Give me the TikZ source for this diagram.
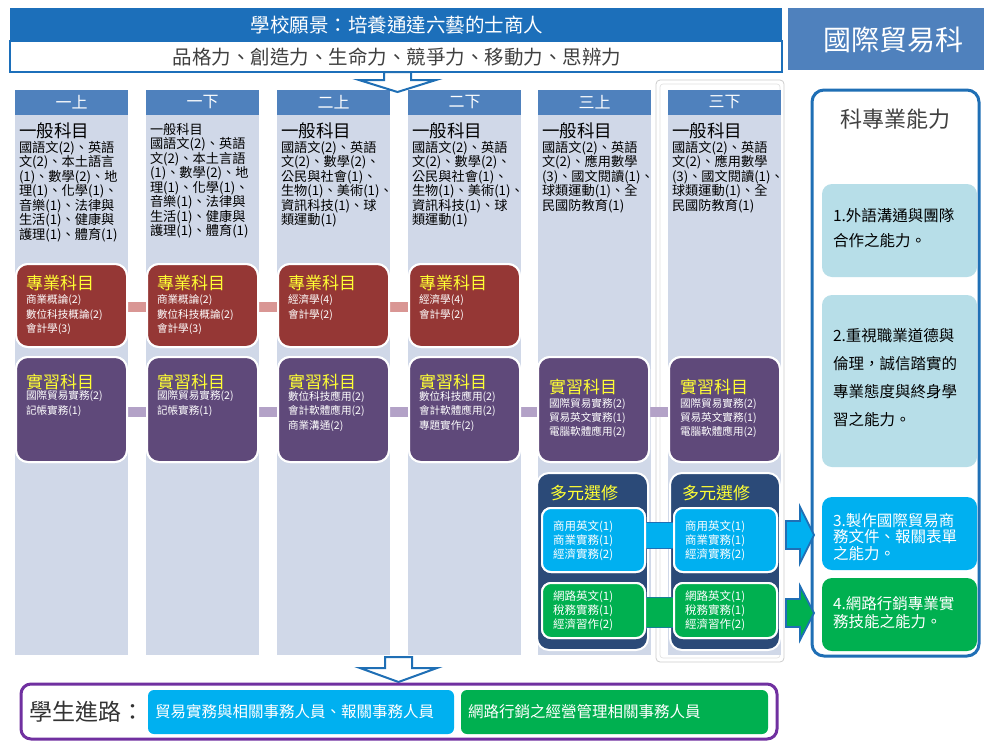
\documentclass[tikz,border=0pt]{standalone}
\usepackage{fontspec}
\setmainfont{Noto Sans CJK TC}
\usetikzlibrary{calc}
\definecolor{hdrblue}{HTML}{4F81BD}
\definecolor{bodybg}{HTML}{D0D8E8}
\definecolor{redc}{HTML}{953735}
\definecolor{purc}{HTML}{5F497A}
\definecolor{navyc}{HTML}{2B4A78}
\definecolor{cyanc}{HTML}{00B0F0}
\definecolor{greenc}{HTML}{00B050}
\definecolor{ltblue}{HTML}{B7DEE8}
\definecolor{frameblue}{HTML}{1F6FB5}
\definecolor{titleblue}{HTML}{1C6FBA}
\definecolor{purplebrd}{HTML}{7030A0}
\definecolor{pinkc}{HTML}{D99694}
\definecolor{lilacc}{HTML}{B3A2C7}
\definecolor{ttlyellow}{HTML}{FFFF33}
\newcommand{\fsz}[2]{\fontsize{#1}{#2}\selectfont}
\begin{document}
\begin{tikzpicture}[x=1pt,y=-1pt,
  every node/.style={inner sep=0pt,outer sep=0pt},
  colhead/.style={fill=hdrblue,text=white,minimum width=113,minimum height=25,anchor=north west,font=\fsz{16}{18}},
  colbody/.style={fill=bodybg,minimum width=113,minimum height=540,anchor=north west},
  redbox/.style={fill=redc,draw=white,line width=2pt,rounded corners=12,minimum width=111,minimum height=83,anchor=north west},
  purbox/.style={fill=purc,draw=white,line width=2pt,rounded corners=12,minimum width=111,minimum height=105,anchor=north west},
  navybox/.style={fill=navyc,draw=white,line width=2pt,rounded corners=12,minimum width=111,minimum height=177,anchor=north west},
  cybox/.style={fill=cyanc,draw=white,line width=2pt,rounded corners=9,minimum width=103,minimum height=64,anchor=north west},
  grbox/.style={fill=greenc,draw=white,line width=2pt,rounded corners=9,minimum width=103,minimum height=55,anchor=north west},
  bigttl/.style={anchor=west,font=\fsz{17.5}{20}},
  gentxt/.style={anchor=north west,align=left,font=\fsz{13.2}{14.5}},
  boxttl/.style={anchor=west,text=ttlyellow,font=\fsz{17}{20}},
  boxtxt/.style={anchor=north west,align=left,text=white,font=\fsz{10.6}{14.5}},
  abil/.style={rounded corners=10,minimum width=155,anchor=north west},
  abiltxt/.style={anchor=north west,align=left,font=\fsz{15.5}{25}},
  outarrow/.style={draw=frameblue,line width=2pt,fill=white,line join=miter}
]
\useasboundingbox (0,0) rectangle (984,742);

% ---------- header ----------
\node[fill=titleblue,minimum width=772,minimum height=33,anchor=north west] (vis) at (10,8) {};
\node[text=white,font=\fsz{19.5}{22}] (vistxt) at (397,25) {學校願景：培養通達六藝的士商人};
\node[fill=white,draw=titleblue,line width=2pt,minimum width=772,minimum height=31,anchor=north west] (pow) at (10,41) {};
\node[text=black!75,font=\fsz{19.5}{22}] (powtxt) at (397,57) {品格力、創造力、生命力、競爭力、移動力、思辨力};
\node[fill=hdrblue,minimum width=200,minimum height=62,anchor=north west] (dept) at (788,8) {};
\node[text=white,font=\fsz{28}{30}] (depttxt) at (893,40) {國際貿易科};

% ---------- columns ----------
\draw[gray!40,line width=0.8pt,rounded corners=4] (656,80) rectangle (784,662);
\draw[gray!25,line width=0.6pt,rounded corners=3] (660,84) rectangle (780,658);
\foreach \i/\x/\lab in {1/15/一上,2/146/一下,3/277/二上,4/408/二下,5/538/三上,6/668/三下}{
  \node[colbody] (b\i) at (\x,115) {};
  \node[colhead] (h\i) at (\x,90) {\lab};
}

% top arrow
\draw[outarrow] (384,72) -- (411,72) -- (411,80) -- (436,80) -- (397.5,92) -- (359,80) -- (384,80) -- cycle;

% general subjects
\node[bigttl] (g1t) at (19,131) {一般科目};
\node[gentxt] (g1) at (19,141) {國語文(2)、英語\\文(2)、本土語言\\(1)、數學(2)、地\\理(1)、化學(1)、\\音樂(1)、法律與\\生活(1)、健康與\\護理(1)、體育(1)};
\node[gentxt] (g2) at (150,123) {一般科目\\國語文(2)、英語\\文(2)、本土言語\\(1)、數學(2)、地\\理(1)、化學(1)、\\音樂(1)、法律與\\生活(1)、健康與\\護理(1)、體育(1)};
\node[bigttl] (g3t) at (281,131) {一般科目};
\node[gentxt] (g3) at (281,141) {國語文(2)、英語\\文(2)、數學(2)、\\公民與社會(1)、\\生物(1)、美術(1)、\\資訊科技(1)、球\\類運動(1)};
\node[bigttl] (g4t) at (412,131) {一般科目};
\node[gentxt] (g4) at (412,141) {國語文(2)、英語\\文(2)、數學(2)、\\公民與社會(1)、\\生物(1)、美術(1)、\\資訊科技(1)、球\\類運動(1)};
\node[bigttl] (g5t) at (542,131) {一般科目};
\node[gentxt] (g5) at (542,141) {國語文(2)、英語\\文(2)、應用數學\\(3)、國文閱讀(1)、\\球類運動(1)、全\\民國防教育(1)};
\node[bigttl] (g6t) at (672,131) {一般科目};
\node[gentxt] (g6) at (672,141) {國語文(2)、英語\\文(2)、應用數學\\(3)、國文閱讀(1)、\\球類運動(1)、全\\民國防教育(1)};

% ---------- professional subjects (red) ----------
\foreach \i/\x in {1/16,2/147,3/278,4/409}{
  \node[redbox] (r\i) at (\x,264) {};
}
\foreach \a/\b in {r1/r2,r2/r3,r3/r4}{
  \fill[pinkc] ([yshift=3.5]\a.east) rectangle ([yshift=-6.5]\b.west);
}
\foreach \i/\x in {1/16,2/147,3/278,4/409}{
  \node[redbox] at (\x,264) {};
  \node[boxttl] (rt\i) at (\x+10,283) {專業科目};
}
\node[boxtxt] (rx1) at (26,295) {商業概論(2)\\數位科技概論(2)\\會計學(3)};
\node[boxtxt] (rx2) at (157,295) {商業概論(2)\\數位科技概論(2)\\會計學(3)};
\node[boxtxt] (rx3) at (288,295) {經濟學(4)\\會計學(2)};
\node[boxtxt] (rx4) at (419,295) {經濟學(4)\\會計學(2)};

% ---------- practice subjects (purple) ----------
\foreach \i/\x in {1/16,2/147,3/278,4/409,5/538,6/669}{
  \node[purbox] (p\i) at (\x,357) {};
}
\foreach \a/\b in {p1/p2,p2/p3,p3/p4,p4/p5,p5/p6}{
  \fill[lilacc] ([yshift=2.5]\a.east) rectangle ([yshift=-7.5]\b.west);
}
\foreach \i/\x in {1/16,2/147,3/278,4/409,5/538,6/669}{
  \node[purbox] at (\x,357) {};
}
\node[boxttl] (pt1) at (26,382) {實習科目};
\node[boxttl] (pt2) at (157,382) {實習科目};
\node[boxttl] (pt3) at (288,382) {實習科目};
\node[boxttl] (pt4) at (419,382) {實習科目};
\node[boxttl] (pt5) at (549,387) {實習科目};
\node[boxttl] (pt6) at (680,387) {實習科目};
\node[boxtxt] (px1) at (26,391) {國際貿易實務(2)\\記帳實務(1)};
\node[boxtxt] (px2) at (157,391) {國際貿易實務(2)\\記帳實務(1)};
\node[boxtxt] (px3) at (288,391) {數位科技應用(2)\\會計軟體應用(2)\\商業溝通(2)};
\node[boxtxt] (px4) at (419,391) {數位科技應用(2)\\會計軟體應用(2)\\專題實作(2)};
\node[boxtxt,font=\fsz{10.6}{14}] (px5) at (549,399) {國際貿易實務(2)\\貿易英文實務(1)\\電腦軟體應用(2)};
\node[boxtxt,font=\fsz{10.6}{14}] (px6) at (680,399) {國際貿易實務(2)\\貿易英文實務(1)\\電腦軟體應用(2)};

% ---------- electives ----------
\node[navybox] (e5) at (537,473) {};
\node[navybox,minimum width=110] (e6) at (670,473) {};
\node[boxttl] (et5) at (550,493) {多元選修};
\node[boxttl] (et6) at (682,493) {多元選修};
\node[cybox] (c5) at (542,508) {};
\node[cybox] (c6) at (674,508) {};
\node[grbox] (q5) at (542,583) {};
\node[grbox] (q6) at (674,583) {};
\fill[cyanc,draw=frameblue,line width=1pt] ([yshift=18]c5.east) rectangle ([yshift=-8]c6.west);
\fill[greenc,draw=frameblue!70!greenc,line width=1pt] ([yshift=13.5]q5.east) rectangle ([yshift=-16.5]q6.west);
\node[cybox] at (542,508) {};
\node[cybox] at (674,508) {};
\node[grbox] at (542,583) {};
\node[grbox] at (674,583) {};
\node[boxtxt,font=\fsz{11.5}{14}] (ct5) at (553,521) {商用英文(1)\\商業實務(1)\\經濟實務(2)};
\node[boxtxt,font=\fsz{11.5}{14}] (ct6) at (685,521) {商用英文(1)\\商業實務(1)\\經濟實務(2)};
\node[boxtxt,font=\fsz{11.5}{14}] (qt5) at (553,591) {網路英文(1)\\稅務實務(1)\\經濟習作(2)};
\node[boxtxt,font=\fsz{11.5}{14}] (qt6) at (685,591) {網路英文(1)\\稅務實務(1)\\經濟習作(2)};

% ---------- abilities ----------
\node[draw=frameblue,line width=3pt,rounded corners=12,fill=white,minimum width=167,minimum height=566,anchor=north west] (abl) at (812,90) {};
\node[text=black!75,font=\fsz{22}{25}] (ablt) at (895,119) {科專業能力};
\node[abil,fill=ltblue,minimum height=93] (k1) at (822,184) {};
\node[abiltxt] (k1t) at (833,208) {1.外語溝通與團隊\\合作之能力。};
\node[abil,fill=ltblue,minimum height=172] (k2) at (822,295) {};
\node[abiltxt,font=\fsz{15.5}{28}] (k2t) at (833,328) {2.重視職業道德與\\倫理，誠信踏實的\\專業態度與終身學\\習之能力。};
\node[abil,fill=cyanc,minimum height=73] (k3) at (822,497) {};
\node[abiltxt,text=white,font=\fsz{15.5}{16.5}] (k3t) at (833,513) {3.製作國際貿易商\\務文件、報關表單\\之能力。};
\node[abil,fill=greenc,minimum height=73] (k4) at (822,578) {};
\node[abiltxt,text=white,font=\fsz{15.5}{18}] (k4t) at (833,596) {4.網路行銷專業實\\務技能之能力。};

% block arrows to abilities
\draw[fill=cyanc,draw=frameblue,line width=1.8pt,line join=miter]
  (786,521) -- (800,521) -- (800,507) -- (814,535) -- (800,563) -- (800,549) -- (786,549) -- cycle;
\draw[fill=greenc,draw=frameblue,line width=1.8pt,line join=miter]
  (786,599) -- (800,599) -- (800,586) -- (814,613) -- (800,640) -- (800,627) -- (786,627) -- cycle;

% ---------- bottom ----------
\draw[outarrow] (385,657) -- (412,657) -- (412,668) -- (437,668) -- (398.5,682) -- (360,668) -- (385,668) -- cycle;
\node[draw=purplebrd,line width=3pt,rounded corners=10,fill=white,minimum width=756,minimum height=55,anchor=north west] (road) at (21,684) {};
\node[anchor=west,text=black!80,font=\fsz{23}{26}] (roadt) at (29,712) {學生進路：};
\node[fill=cyanc,rounded corners=6,minimum width=306,minimum height=44,anchor=north west] (path1) at (148,690) {};
\node[anchor=west,text=white,font=\fsz{15.5}{18}] (path1t) at (155,712) {貿易實務與相關事務人員、報關事務人員};
\node[fill=greenc,rounded corners=6,minimum width=307,minimum height=44,anchor=north west] (path2) at (461,690) {};
\node[anchor=west,text=white,font=\fsz{15.5}{18}] (path2t) at (468,712) {網路行銷之經營管理相關事務人員};
\end{tikzpicture}
\end{document}
